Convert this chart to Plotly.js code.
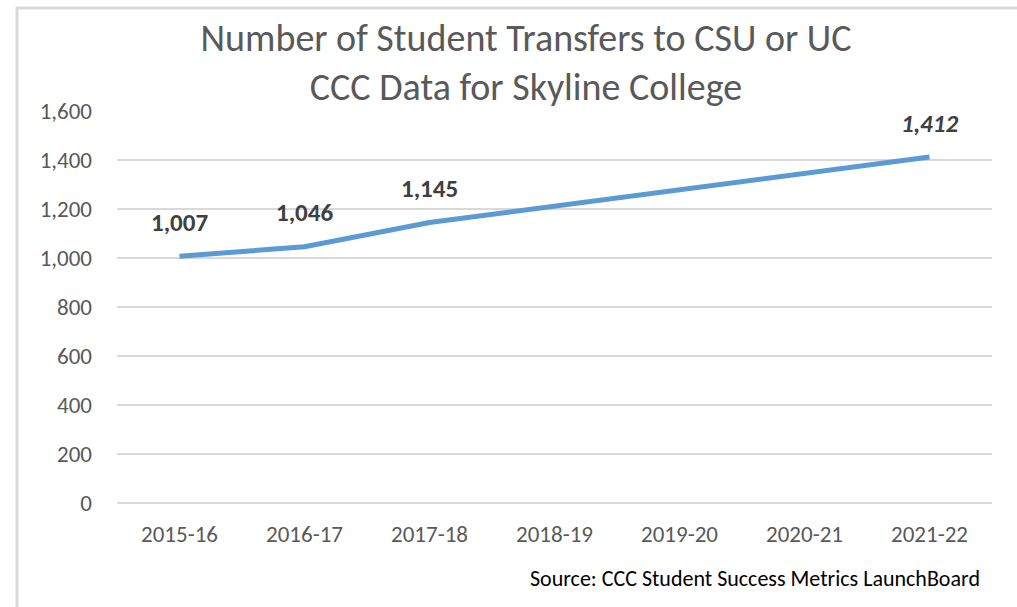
<!DOCTYPE html>
<html>
<head>
<meta charset="utf-8">
<script src="https://cdn.plot.ly/plotly-3.0.1.min.js"></script>
<style>
html,body{margin:0;padding:0;background:#fff;}
#chart{width:1017px;height:607px;}
</style>
</head>
<body>
<div id="chart"></div>
<script>
// Data
const years = ["2015-16", "2016-17", "2017-18", "2018-19", "2019-20", "2020-21", "2021-22"];
const transfers = [1007, 1046, 1145, null, null, null, 1412];
const labelItalic = [false, false, false, false, false, false, true];
const yTicks = [0, 200, 400, 600, 800, 1000, 1200, 1400, 1600];
const titleText = "Number of Student Transfers to CSU or UC<br>CCC Data for Skyline College";
const sourceText = "Source: CCC Student Success Metrics LaunchBoard";

const FONT = "Carlito, Calibri, Lato, 'Liberation Sans', sans-serif";

const trace = {
  x: years,
  y: transfers,
  type: "scatter",
  mode: "lines",
  connectgaps: true,
  line: {color: "#5B9BD5", width: 5},
  hoverinfo: "x+y"
};

const annotations = [];
years.forEach((yr, i) => {
  const v = transfers[i];
  if (v === null) return;
  const txt = v.toLocaleString("en-US");
  annotations.push({
    x: yr, y: v, xref: "x", yref: "y",
    text: labelItalic[i] ? "<b><i>" + txt + "</i></b>" : "<b>" + txt + "</b>",
    showarrow: false, yshift: 34,
    font: {family: FONT, size: 25, color: "#404040"}
  });
});
annotations.push({
  xref: "paper", yref: "paper", x: 1 - (10/875), y: -(578-503)/392,
  xanchor: "right", yanchor: "middle",
  text: sourceText, showarrow: false,
  font: {family: FONT, size: 22, color: "#000000"}
});

const layout = {
  width: 1017, height: 607,
  margin: {l: 117, r: 25, t: 111, b: 104},
  paper_bgcolor: "#ffffff", plot_bgcolor: "#ffffff",
  showlegend: false,
  font: {family: FONT, color: "#595959"},
  title: {
    text: titleText,
    font: {family: FONT, size: 38, color: "#595959"},
    xref: "container", x: 526/1017, xanchor: "center",
    yref: "container", y: 1 - 51/607, yanchor: "middle"
  },
  xaxis: {
    type: "category",
    range: [-0.5, 6.5],
    showgrid: false, zeroline: false, showline: false,
    ticks: "", tickfont: {family: FONT, size: 23, color: "#595959"},
    ticklabelstandoff: 15, fixedrange: true
  },
  yaxis: {
    range: [0, 1600],
    tickvals: yTicks,
    tickformat: ",d",
    showgrid: true, gridcolor: "#d9d9d9", gridwidth: 1.5,
    zeroline: true, zerolinecolor: "#d9d9d9", zerolinewidth: 1.5,
    showline: false, ticks: "",
    tickfont: {family: FONT, size: 23, color: "#595959"},
    ticklabelstandoff: 24, fixedrange: true
  },
  annotations: annotations,
  shapes: [{
    type: "path", xref: "paper", yref: "paper",
    path: "M " + ((17-117)/875) + " " + (-(620-503)/392) + " L " + ((17-117)/875) + " " + (1 + (111-8)/392) + " L " + ((1030-117)/875) + " " + (1 + (111-8)/392),
    line: {color: "#d9d9d9", width: 3}, layer: "below"
  }]
};

Plotly.newPlot("chart", [trace], layout, {displayModeBar: false, staticPlot: true});
</script>
</body>
</html>
